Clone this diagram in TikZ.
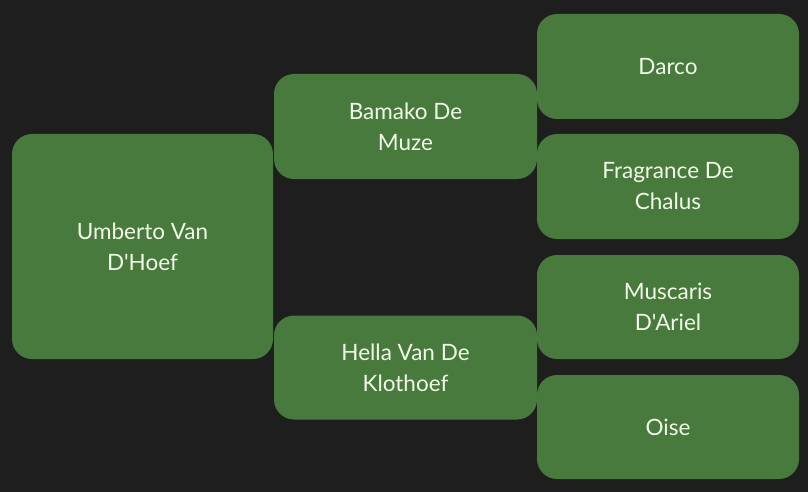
\documentclass[tikz,border=0pt]{standalone}
\usepackage{fontspec}
\setmainfont{Lato}[Ligatures=TeXOff]
\definecolor{bg}{HTML}{1E1E1E}
\definecolor{boxfill}{HTML}{487A3D}
\definecolor{txt}{HTML}{F2FBE8}
\tikzset{
  person/.style={fill=boxfill, draw=none, rounded corners=20pt, inner sep=0pt,
    text=txt, align=center, font=\fontsize{22.5}{31}\selectfont}
}
\begin{document}
\begin{tikzpicture}[x=1pt,y=-1pt]
\fill[bg] (0,0) rectangle (808,492);
\useasboundingbox (0,0) rectangle (808,492);
\node[person, minimum width=261pt, minimum height=225pt] (u) at (142.5,246.5) {Umberto Van\\D'Hoef};
\node[person, minimum width=263pt, minimum height=105pt] (b) at (405.5,126.5) {Bamako De\\Muze};
\node[person, minimum width=263pt, minimum height=104pt] (h) at (405.5,367.5) {Hella Van De\\Klothoef};
\node[person, minimum width=262pt, minimum height=105pt] (d) at (668,66.5) {Darco};
\node[person, minimum width=262pt, minimum height=105pt] (f) at (668,186.5) {Fragrance De\\Chalus};
\node[person, minimum width=262pt, minimum height=104pt] (m) at (668,307) {Muscaris\\D'Ariel};
\node[person, minimum width=262pt, minimum height=104pt] (o) at (668,427) {Oise};
\end{tikzpicture}
\end{document}
